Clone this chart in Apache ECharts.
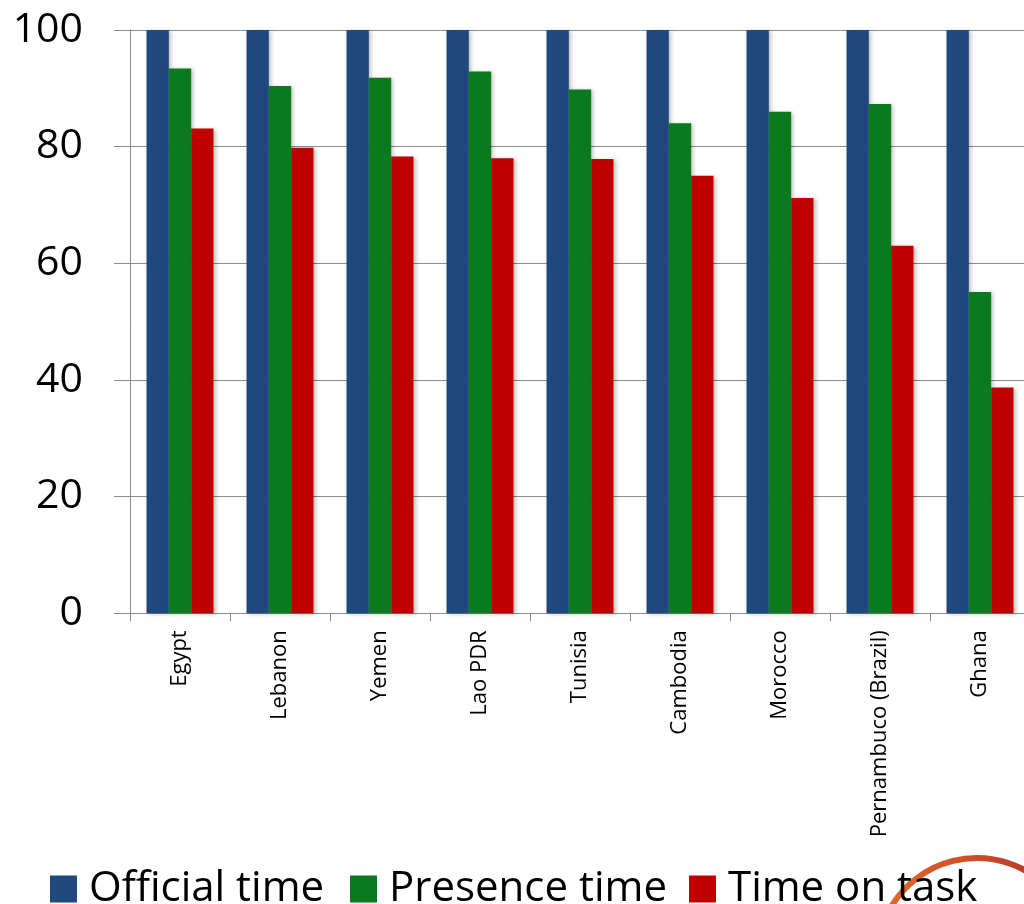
<!DOCTYPE html>
<html>
<head>
<meta charset="utf-8">
<script src="https://cdn.jsdelivr.net/npm/echarts@6/dist/echarts.min.js"></script>
<style>
html,body{margin:0;padding:0;background:#fff;}
#chart{width:1024px;height:904px;}
</style>
</head>
<body>
<div id="chart"></div>
<script>
const categories = ['Egypt','Lebanon','Yemen','Lao PDR','Tunisia','Cambodia','Morocco','Pernambuco (Brazil)','Ghana'];
const officialTime = [100,100,100,100,100,100,100,100,100];
const presenceTime = [93.4,90.4,91.8,92.9,89.8,84.0,86.0,87.3,55.1];
const timeOnTask = [83.1,79.8,78.3,78.0,77.9,75.0,71.2,63.0,38.7];
const yTicks = [0,20,40,60,80,100];
const seriesNames = ['Official time','Presence time','Time on task'];

const gray = '#8c8c8c';
const shadow = {shadowBlur:4, shadowColor:'rgba(0,0,0,0.25)', shadowOffsetX:2, shadowOffsetY:1};
const legendLefts = [50, 350, 689];

function makeLegend(name, left){
  return {
    left:left, top:868, padding:0,
    itemWidth:34, itemHeight:27,
    icon:'path://M0 0H27V27H0Z M34 0L34 0.01',
    textStyle:{fontFamily:'Open Sans', fontSize:42, color:'#000'},
    data:[name]
  };
}

const chart = echarts.init(document.getElementById('chart'), null, {renderer:'canvas'});
chart.setOption({
  animation:false,
  backgroundColor:'#ffffff',
  grid:{left:130, width:900, top:30, height:583.3, containLabel:false, outerBoundsMode:'none'},
  legend: seriesNames.map(function(n,i){ return makeLegend(n, legendLefts[i]); }),
  xAxis:{
    type:'category',
    data:categories,
    axisLine:{lineStyle:{color:gray, width:1}},
    axisTick:{show:true, length:8, interval:0, lineStyle:{color:gray}},
    axisLabel:{rotate:90, interval:0, margin:17, fontFamily:'Open Sans', fontSize:22, color:'#000'}
  },
  yAxis:{
    type:'value', min:0, max:100, interval:20,
    axisLine:{show:true, lineStyle:{color:gray, width:1}},
    axisTick:{show:true, length:16, lineStyle:{color:gray}},
    splitLine:{show:true, lineStyle:{color:gray, width:1}},
    axisLabel:{margin:47, fontFamily:'Open Sans', fontSize:41, color:'#000',
      formatter:function(v){return yTicks.indexOf(v)>=0 ? String(v) : '';}}
  },
  graphic:[{
    type:'arc', z:-1,
    shape:{cx:977, cy:958, r:100, startAngle:-2.6, endAngle:-0.85, clockwise:true},
    style:{fill:null, stroke:new echarts.graphic.LinearGradient(0,0,1,0,[{offset:0,color:'#e0682a'},{offset:1,color:'#b8352a'}]), lineWidth:6, lineCap:'round'}
  }],
  series:[
    {name:seriesNames[0], type:'bar', data:officialTime, barGap:'0%', barCategoryGap:'33%',
     itemStyle:Object.assign({color:'#1f497d'}, shadow)},
    {name:seriesNames[1], type:'bar', data:presenceTime, barGap:'0%', barCategoryGap:'33%',
     itemStyle:Object.assign({color:'#0b7a1f'}, shadow)},
    {name:seriesNames[2], type:'bar', data:timeOnTask, barGap:'0%', barCategoryGap:'33%',
     itemStyle:Object.assign({color:'#c00000'}, shadow)}
  ]
});
</script>
</body>
</html>
